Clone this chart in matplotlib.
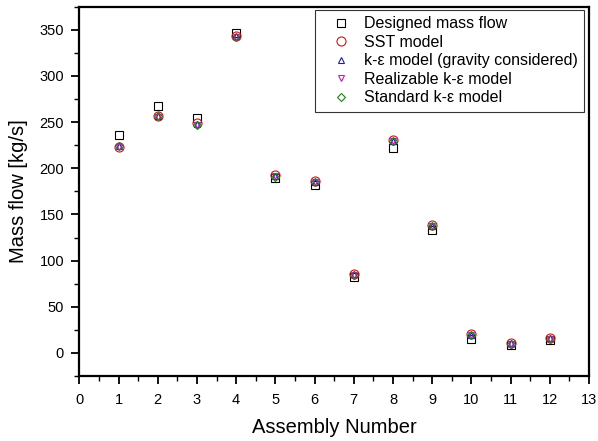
import matplotlib
matplotlib.use("Agg")
import matplotlib.pyplot as plt
from matplotlib.ticker import MultipleLocator

plt.rcParams['font.family'] = ['Liberation Sans', 'DejaVu Sans']

assembly = [1, 2, 3, 4, 5, 6, 7, 8, 9, 10, 11, 12]
designed = [236, 267, 254, 346, 189, 182, 82, 222, 133, 15, 9, 14]
sst = [223, 257, 249, 343, 193, 186, 85, 231, 139, 20, 11, 16]
ke_gravity = [224, 257, 248, 343, 192, 185, 85, 230, 138, 19, 11, 16]
realizable = [223, 256, 247, 342, 192, 185, 84, 230, 138, 19, 10, 15]
standard = [224, 257, 247, 342, 191, 185, 84, 229, 137, 19, 10, 15]

fig = plt.figure(figsize=(5.98, 4.41), dpi=100)
ax = fig.add_axes([0.1326, 0.1474, 0.8524, 0.8374])

common = dict(linestyle='none', markerfacecolor='none', markeredgewidth=0.8)
ax.plot(assembly, designed, marker='s', ms=6, color='black', label='Designed mass flow', **common)
ax.plot(assembly, sst, marker='o', ms=6.5, color='#c81818', label='SST model', **common)
ax.plot(assembly, ke_gravity, marker='^', ms=5, color='#2020a0', label='k-\u03b5 model (gravity considered)', **common)
ax.plot(assembly, realizable, marker='v', ms=5, color='#c020c0', label='Realizable k-\u03b5 model', **common)
ax.plot(assembly, standard, marker='D', ms=4, color='#208020', label='Standard k-\u03b5 model', **common)

ax.set_xlim(0, 13)
ax.set_ylim(-25, 375)
ax.xaxis.set_major_locator(MultipleLocator(1))
ax.xaxis.set_minor_locator(MultipleLocator(0.5))
ax.yaxis.set_major_locator(MultipleLocator(50))
ax.yaxis.set_minor_locator(MultipleLocator(25))
ax.tick_params(which='major', direction='out', length=6, width=1.3, labelsize=10.5)
ax.tick_params(axis='x', which='major', pad=6)
ax.tick_params(axis='y', which='major', pad=5)
ax.tick_params(which='minor', direction='out', length=3.5, width=1.0)
for s in ax.spines.values():
    s.set_linewidth(1.6)

ax.set_xlabel('Assembly Number', fontsize=14.5, labelpad=8)
ax.set_ylabel('Mass flow [kg/s]', fontsize=14.5, labelpad=8)

leg = ax.legend(loc='upper right', bbox_to_anchor=(0.990, 0.991), borderaxespad=0,
                fontsize=11.5, frameon=True, fancybox=False, edgecolor='black',
                handlelength=2.4, handletextpad=0.25, labelspacing=0.22,
                borderpad=0.4)
leg.get_frame().set_linewidth(0.8)

fig.savefig('out.png', dpi=100)
